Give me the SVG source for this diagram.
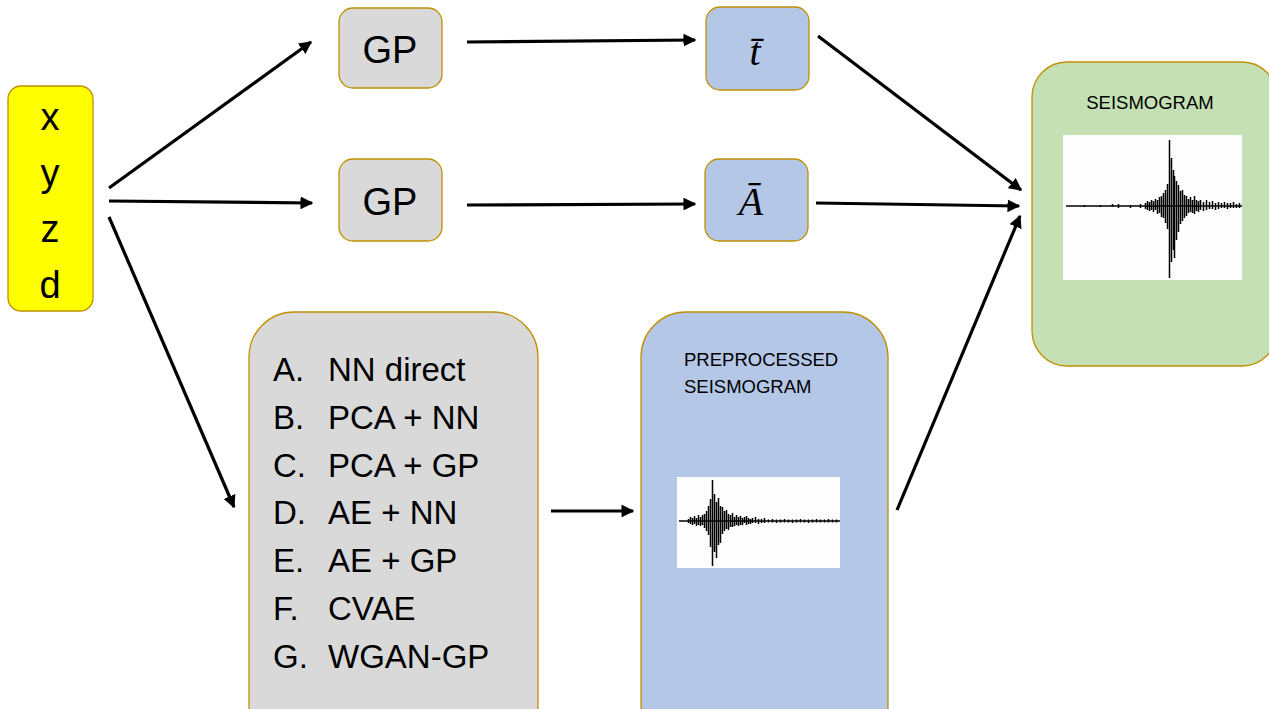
<svg xmlns="http://www.w3.org/2000/svg" width="1269" height="709" viewBox="0 0 1269 709">
<defs>
<marker id="ah" viewBox="0 0 10 10" refX="9" refY="5" markerWidth="4" markerHeight="4" orient="auto" markerUnits="strokeWidth">
<path d="M0,0 L10,5 L0,10 Z" fill="#000"/>
</marker>
<style>
.box{stroke:#BF9000;stroke-width:1.3}
.yel{fill:#FFFF00}
.gray{fill:#D9D9D9}
.blue{fill:#B4C7E7}
.green{fill:#C5E0B4}
.t{font-family:"Liberation Sans",Arial,sans-serif;fill:#000}
.big{font-size:38px;text-anchor:middle}
.list{font-size:33px}
.cap{font-size:18.5px}
.math{font-family:"Liberation Serif","DejaVu Serif",serif;font-style:italic;font-size:40px;text-anchor:middle;fill:#000}
.conn line{stroke:#000;stroke-width:3.2;marker-end:url(#ah)}
.trace{stroke:#000;stroke-width:1.5;fill:none}
</style>
</defs>
<rect width="1269" height="709" fill="#fff"/>

<g id="inputs">
<rect class="box yel" x="8" y="86" width="85" height="225" rx="13"/>
<text class="t big" x="50" y="130">x</text>
<text class="t big" x="50" y="186">y</text>
<text class="t big" x="50" y="242">z</text>
<text class="t big" x="50" y="298">d</text>
</g>

<g id="gp1">
<rect class="box gray" x="339" y="8" width="103" height="80" rx="14"/>
<text class="t big" x="390" y="63">GP</text>
</g>
<g id="gp2">
<rect class="box gray" x="339" y="159" width="103" height="82" rx="14"/>
<text class="t big" x="390" y="215">GP</text>
</g>

<g id="tbar">
<rect class="box blue" x="706" y="7" width="103" height="83" rx="14"/>
<text class="math" x="755" y="65">t̄</text>
</g>
<g id="abar">
<rect class="box blue" x="705" y="159" width="103" height="82" rx="14"/>
<text class="math" x="751" y="215">Ā</text>
</g>

<g id="methods">
<rect class="box gray" x="249" y="312" width="289" height="440" rx="45"/>
<g class="t list">
<text x="273" y="381">A.</text><text x="328" y="381">NN direct</text>
<text x="273" y="429">B.</text><text x="328" y="429">PCA + NN</text>
<text x="273" y="477">C.</text><text x="328" y="477">PCA + GP</text>
<text x="273" y="524">D.</text><text x="328" y="524">AE + NN</text>
<text x="273" y="572">E.</text><text x="328" y="572">AE + GP</text>
<text x="273" y="620">F.</text><text x="328" y="620">CVAE</text>
<text x="273" y="668">G.</text><text x="328" y="668">WGAN-GP</text>
</g>
</g>

<g id="preprocessed">
<rect class="box blue" x="641" y="312" width="247" height="440" rx="45"/>
<text class="t cap" x="684" y="366">PREPROCESSED</text>
<text class="t cap" x="684" y="393">SEISMOGRAM</text>
<rect x="677" y="477" width="163" height="91" fill="#fdfdfd"/>
<path class="trace" stroke-width="1.2" d="M679,521H840"/>
<path class="trace" d="M688.5,519V523 M690.5,517V524 M692.5,518V525 M694.5,516V524 M696.5,518V526 M698.5,515V525 M700.5,517V526 M702.5,515V525 M704.5,514V528 M706.5,511V531 M708.5,506V535 M710.5,499V547 M712.5,480V566 M714.5,494V552 M716.5,502V558 M718.5,498V545 M720.5,506V543 M722.5,507V534 M724.5,511V531 M726.5,510V529 M728.5,514V530 M730.5,515V527 M732.5,513V527 M734.5,517V526 M736.5,515V525 M738.5,517V526 M740.5,516V525 M742.5,518V525 M744.5,517V523 M746.5,516V525 M748.5,518V524 M750.5,519V524 M752.5,518V523 M755.5,517V523 M758.5,519V524 M761.5,519V523 M764.5,518V523 M768.5,519.5V522.5 M772.5,519V522.5 M776.5,519.5V523 M780.5,519.5V522.5 M784.5,519V522.5 M788.5,519.5V522.5 M792.5,519.5V523 M796.5,519.5V522.5 M800.5,519V522.5 M804.5,519.5V522.5 M808.5,519.5V523 M812.5,519.5V522.5 M816.5,519V522.5 M820.5,519.5V522.5 M824.5,519.5V522.5 M828.5,519V522.5 M832.5,519.5V522.5 M836.5,519.5V522.5"/>
</g>

<g id="seismogram">
<rect class="box green" x="1032" y="62" width="245" height="304" rx="35"/>
<text class="t cap" x="1150" y="109" text-anchor="middle">SEISMOGRAM</text>
<rect x="1063" y="135" width="179" height="145" fill="#fdfdfd"/>
<path class="trace" stroke-width="1.2" d="M1066,206H1242"/>
<path class="trace" d="M1084.5,205V207 M1100.5,205V207 M1112.5,204V207 M1118.5,204V208 M1130.5,205V208 M1140.5,204V208 M1145.5,203V209 M1147.5,201V210 M1149.5,202V211 M1151.5,200V210 M1153.5,201V212 M1155.5,199V210 M1157.5,200V214 M1159.5,197V213 M1161.5,196V217 M1163.5,193V218 M1165.5,190V223 M1167.5,184V229 M1169.5,140V278 M1171.5,158V262 M1173.5,170V250 M1174.5,176V258 M1176.5,181V240 M1178.5,185V232 M1180.5,191V224 M1182.5,190V221 M1184.5,195V218 M1186.5,196V216 M1188.5,199V213 M1190.5,197V212 M1192.5,200V213 M1194.5,196V214 M1196.5,200V211 M1198.5,201V212 M1200.5,200V210 M1203.5,202V211 M1206.5,200V210 M1209.5,202V209 M1212.5,201V209 M1215.5,203V210 M1218.5,202V209 M1221.5,203V208 M1224.5,202V208 M1227.5,203V209 M1230.5,203V208 M1233.5,202V208 M1236.5,204V208 M1239.5,203V208"/>
</g>

<g id="connectors" class="conn">
<line x1="109" y1="188" x2="311" y2="42"/>
<line x1="109" y1="201" x2="312" y2="203"/>
<line x1="109" y1="217" x2="234" y2="507"/>
<line x1="467" y1="42" x2="695" y2="40"/>
<line x1="467" y1="205" x2="695" y2="204"/>
<line x1="818" y1="36" x2="1021" y2="190"/>
<line x1="816" y1="203" x2="1019" y2="206"/>
<line x1="897" y1="510" x2="1020" y2="216"/>
<line x1="551" y1="511" x2="633" y2="511"/>
</g>
</svg>
